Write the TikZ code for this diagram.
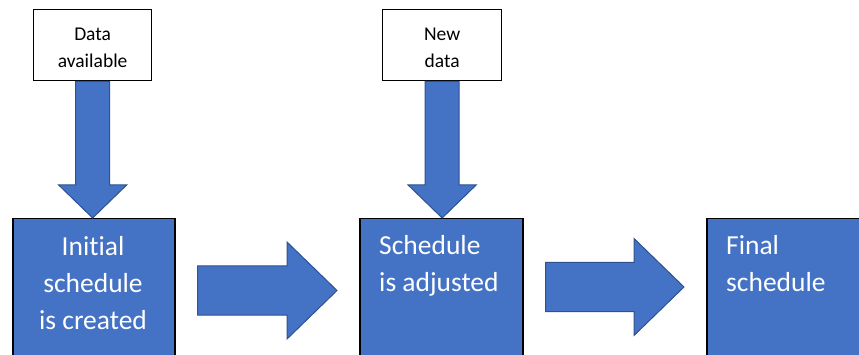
\documentclass[tikz,border=0pt]{standalone}
\usepackage{fontspec}
\setmainfont[Ligatures=NoCommon]{Carlito}
\usetikzlibrary{calc}
\definecolor{stageblue}{HTML}{4472C4}
\definecolor{stageedge}{HTML}{2F528F}

% horizontal block arrow between two stage boxes;
% #3 = height of the arrow axis below the top of the boxes
\newcommand\stagearrow[3]{%
  \coordinate (arrowstart) at ($(#1.north east)+(22,#3)$);
  \coordinate (arrowtip) at ($(#2.north west)+(-22,#3)$);
  \draw[blockarrow] ($(arrowstart)+(0,-24.5)$) -- ($(arrowtip)+(-50,-24.5)$)
    -- ($(arrowtip)+(-50,-48.5)$) -- (arrowtip) -- ($(arrowtip)+(-50,48.5)$)
    -- ($(arrowtip)+(-50,24.5)$) -- ($(arrowstart)+(0,24.5)$) -- cycle;
}

% vertical block arrow from a data box down onto a stage box
\newcommand\dataarrow[2]{%
  \coordinate (arrowtip) at (#1.south |- #2.north);
  \draw[blockarrow] ($(#1.south)+(-17,0)$) -- ($(arrowtip)+(-17,-33)$)
    -- ($(arrowtip)+(-34,-33)$) -- (arrowtip) -- ($(arrowtip)+(34,-33)$)
    -- ($(arrowtip)+(17,-33)$) -- ($(#1.south)+(17,0)$) -- cycle;
}

\begin{document}
\begin{tikzpicture}[x=1pt,y=-1pt,
  databox/.style={draw=black, line width=1.3pt, fill=white,
    minimum width=118pt, minimum height=71pt, inner sep=0pt, anchor=north west,
    font=\fontsize{19.5}{27}\selectfont, align=center},
  stagebox/.style={draw=black, line width=1.5pt, fill=stageblue,
    minimum height=230pt, inner sep=0pt, anchor=north west},
  stagetext/.style={text=white, font=\fontsize{27.5}{37}\selectfont,
    inner sep=0pt},
  blockarrow/.style={fill=stageblue, draw=stageedge, line width=1pt,
    line join=miter}]

\useasboundingbox (0,0) rectangle (859,355);
\clip (0,0) rectangle (859,355);

% inputs
\node[databox] (d1) at (33,9) {\rule{0pt}{18.5pt}Data\\available};
\node[databox, minimum width=119pt] (d2) at (382,9) {\rule{0pt}{18.5pt}New\\data};

% stages
\node[stagebox, minimum width=162pt] (b1) at (12,218) {};
\node[stagebox, minimum width=163pt] (b2) at (359,218) {};
\node[stagebox, minimum width=200pt] (b3) at (706,218) {};

% arrows
\dataarrow{d1}{b1}
\dataarrow{d2}{b2}
\stagearrow{b1}{b2}{72.5}
\stagearrow{b2}{b3}{69}

% stage labels
\node[stagetext, anchor=north, align=center] (t1) at (93,233)
  {\rule{0pt}{22pt}Initial\\schedule\\is created};
\node[stagetext, anchor=north west, align=left] (t2) at (379,232)
  {\rule{0pt}{22pt}Schedule\\is adjusted};
\node[stagetext, anchor=north west, align=left] (t3) at (726,232)
  {\rule{0pt}{22pt}Final\\schedule};
\end{tikzpicture}
\end{document}
